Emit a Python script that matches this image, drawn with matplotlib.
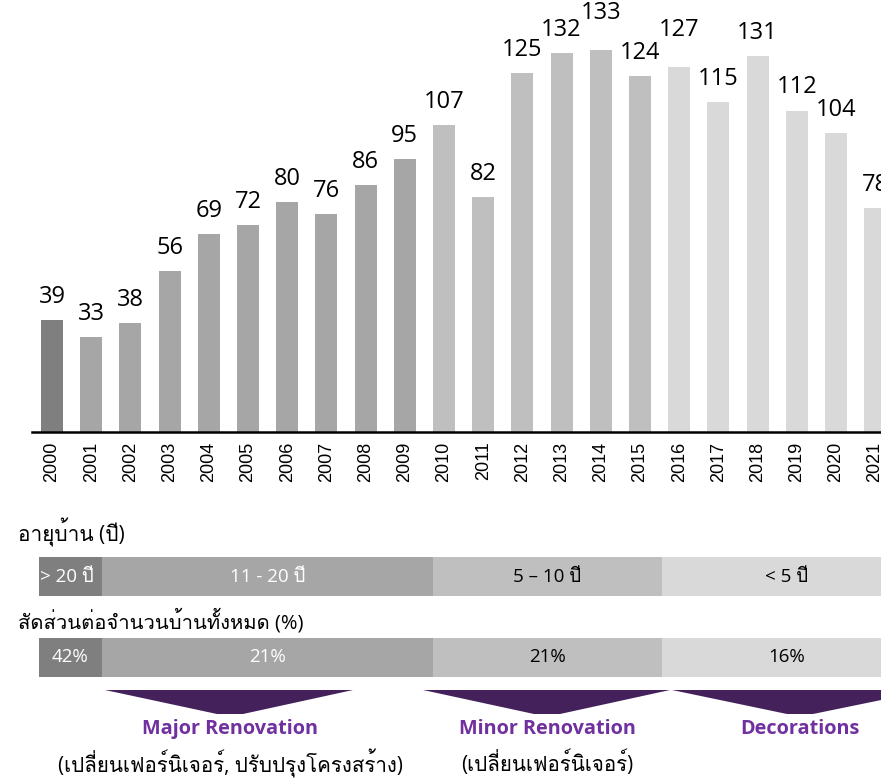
import matplotlib
matplotlib.use("Agg")
import matplotlib.pyplot as plt
from matplotlib import font_manager, ft2font
from matplotlib.patches import Rectangle, Polygon

# Annual values by year
years = [str(y) for y in range(2000, 2022)]
values = [39, 33, 38, 56, 69, 72, 80, 76, 86, 95, 107, 82,
          125, 132, 133, 124, 127, 115, 131, 112, 104, 78]

# House age bands and share of all houses
age_labels = ["> 20 ปี", "11 - 20 ปี", "5 – 10 ปี", "< 5 ปี"]
share_labels = ["42%", "21%", "21%", "16%"]
age_header = "อายุบ้าน (ปี)"
share_header = "สัดส่วนต่อจำนวนบ้านทั้งหมด (%)"

# Work types under the bands
work_titles = ["Major Renovation", "Minor Renovation", "Decorations"]
work_notes = ["(เปลี่ยนเฟอร์นิเจอร์, ปรับปรุงโครงสร้าง)", "(เปลี่ยนเฟอร์นิเจอร์)", ""]

GREYS = ["#7f7f7f", "#a6a6a6", "#bfbfbf", "#d9d9d9"]
PURPLE_DARK = "#44215a"
PURPLE = "#7030a0"

# extra lift (points) for labels that would crowd their neighbours
label_lift = {"2014": 10, "2016": 10}


def find_thai_font():
    for f in font_manager.fontManager.ttflist:
        try:
            cmap = ft2font.FT2Font(f.fname).get_charmap()
        except Exception:
            continue
        if 0x0E2D in cmap and 0x0E1B in cmap:
            return f.name
    return None


thai = find_thai_font()
fam = ["Open Sans"] + ([thai] if thai else []) + ["DejaVu Sans"]
plt.rcParams["font.family"] = fam


def bar_colour(i):
    if i == 0:
        return GREYS[0]
    if i < 10:
        return GREYS[1]
    if i < 16:
        return GREYS[2]
    return GREYS[3]


W, H = 881, 778
fig = plt.figure(figsize=(W / 100, H / 100), dpi=100)

# --- bar chart ---
ax = fig.add_axes([32 / W, 1 - 432 / H, 1 - 32 / W, 432 / H])
x = list(range(len(years)))
ax.bar(x, values, width=0.56, color=[bar_colour(i) for i in x])
for xi, yr, v in zip(x, years, values):
    ax.annotate(str(v), (xi, v), xytext=(0, 8 + label_lift.get(yr, 0)),
                textcoords="offset points", ha="center", va="bottom",
                fontsize=17, family=fam, annotation_clip=False)
ax.set_xlim(-0.51, 21.15)
ax.set_ylim(0, 150.5)
ax.set_xticks(x)
ax.set_xticklabels(years, rotation=90, fontsize=13)
for t in ax.get_xticklabels():
    t.set_fontfamily(["Liberation Sans", "DejaVu Sans"])
ax.tick_params(axis="x", length=0, pad=7)
ax.set_yticks([])
for s in ["top", "right", "left"]:
    ax.spines[s].set_visible(False)
ax.spines["bottom"].set_linewidth(1.8)
ax.patch.set_alpha(0)

# --- age / share bands, drawn in pixel coordinates ---
lo = fig.add_axes([0, 0, 1, 1], zorder=-1)
lo.set_xlim(0, W)
lo.set_ylim(H, 0)
lo.axis("off")

band_edges = [39, 102, 433, 662, W]
text_cols = ["white", "white", "black", "black"]

lo.text(18, 532, age_header, fontsize=15, va="center", ha="left", family=fam)
lo.text(18, 621, share_header, fontsize=14.5, va="center", ha="left", family=fam)

for row_top, labels in [(557, age_labels), (638, share_labels)]:
    for k, lab in enumerate(labels):
        x0, x1 = band_edges[k], band_edges[k + 1]
        lo.add_patch(Rectangle((x0, row_top), x1 - x0, 39, color=GREYS[k], lw=0))
        if k == 0 and labels is age_labels:
            lo.text(x0 + 1, row_top + 19.5, lab, color=text_cols[k], fontsize=13.5,
                    ha="left", va="center", family=fam)
        else:
            cx = 787 if k == 3 else (x0 + x1) / 2
            lo.text(cx, row_top + 19.5, lab, color=text_cols[k], fontsize=13.5,
                    ha="center", va="center", family=fam)

# purple chevrons pointing down to each work type
chevrons = [(105, 353, 230), (423, 670, 547), (672, 930, 800)]
for (l, r, c), title, note in zip(chevrons, work_titles, work_notes):
    lo.add_patch(Polygon([(l, 690), (r, 690), (c + 13, 714), (c - 13, 714)],
                         closed=True, color=PURPLE_DARK, lw=0))
    lo.text(c, 729, title, color=PURPLE, fontsize=14.3, fontweight="bold",
            ha="center", va="center", family=["Open Sans", "DejaVu Sans"])
    if note:
        lo.text(c, 763, note, fontsize=14.8, ha="center", va="center", family=fam)

fig.savefig("out.png", dpi=100)
